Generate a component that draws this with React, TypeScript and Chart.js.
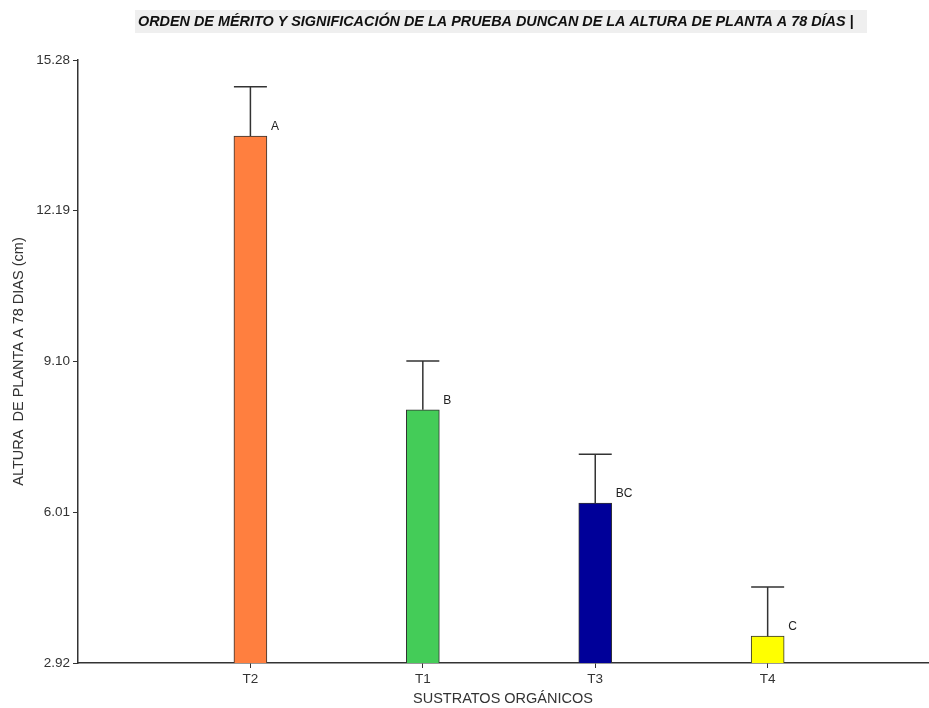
import React, { useEffect, useRef } from "react";
import { Chart, registerables } from "chart.js";

Chart.register(...registerables);

const categories = ["T2", "T1", "T3", "T4"];
const positions = [1, 2, 3, 4];
const means = [13.72, 8.11, 6.2, 3.47];
const errors = [1.01, 1.0, 1.0, 1.01];
const groups = ["A", "B", "BC", "C"];
const barColors = ["#FF7F3F", "#44CC58", "#000099", "#FFFF00"];
const yTicks = [2.92, 6.01, 9.1, 12.19, 15.28];
const titleText = "ORDEN DE MÉRITO Y SIGNIFICACIÓN DE LA PRUEBA DUNCAN DE LA ALTURA DE PLANTA A 78 DÍAS |";
const yTitle = "ALTURA  DE PLANTA A 78 DIAS (cm)";
const xTitle = "SUSTRATOS ORGÁNICOS";

const FONT = "'Liberation Sans', Arial, sans-serif";

const overlay = {
  id: "overlay",
  beforeDraw(chart: any) {
    const ctx = chart.ctx;
    ctx.save();
    ctx.fillStyle = "#ffffff";
    ctx.fillRect(0, 0, chart.width, chart.height);
    ctx.fillStyle = "#efefef";
    ctx.fillRect(135, 10, 732, 23);
    ctx.font = `italic bold 14.4px ${FONT}`;
    ctx.fillStyle = "#111";
    ctx.textBaseline = "middle";
    ctx.textAlign = "left";
    ctx.fillText(titleText, 138, 22);
    ctx.restore();
  },
  afterDatasetsDraw(chart: any) {
    const ctx = chart.ctx;
    const x = chart.scales.x;
    const y = chart.scales.y;
    const meta = chart.getDatasetMeta(0);
    ctx.save();
    for (let i = 0; i < means.length; i++) {
      const m = means[i];
      const e = errors[i];
      const bar: any = meta.data[i];
      const cx = x.getPixelForValue(positions[i]);
      const half = bar.width / 2;
      const yTop = y.getPixelForValue(m);
      const yErr = y.getPixelForValue(m + e);
      ctx.strokeStyle = "#333";
      ctx.lineWidth = 1.5;
      ctx.beginPath();
      ctx.moveTo(cx, yTop);
      ctx.lineTo(cx, yErr);
      ctx.moveTo(cx - half, yErr);
      ctx.lineTo(cx + half, yErr);
      ctx.stroke();
      ctx.fillStyle = "#222";
      ctx.font = `12px ${FONT}`;
      ctx.textAlign = "left";
      ctx.textBaseline = "middle";
      ctx.fillText(groups[i], cx + half + 4, yTop - 9);
    }
    ctx.restore();
  },
};

export default function App() {
  const ref = useRef<HTMLCanvasElement | null>(null);
  useEffect(() => {
    document.body.style.margin = "0";
    const chart = new Chart(ref.current as HTMLCanvasElement, {
      type: "bar",
      data: {
        datasets: [
          {
            data: positions.map((p, i) => ({ x: p, y: means[i] })) as any,
            backgroundColor: barColors,
            borderColor: "#333",
            borderWidth: 1,
            barThickness: 33,
          },
        ],
      },
      options: {
        responsive: false,
        animation: false,
        layout: { padding: { top: 60, right: 1, left: 0, bottom: 0 } },
        plugins: { legend: { display: false }, tooltip: { enabled: false }, title: { display: false } },
        scales: {
          x: {
            type: "linear",
            min: 0,
            max: 4.93,
            offset: false,
            afterBuildTicks: (s: any) => { s.ticks = positions.map((v) => ({ value: v })); },
            grid: {
              display: true,
              drawOnChartArea: false,
              drawTicks: true,
              tickLength: 5,
              offset: false,
              color: "#333",
            },
            border: { display: true, color: "#333", width: 1.5 },
            ticks: {
              color: "#333",
              font: { family: FONT, size: 13.5 },
              padding: 3,
              maxRotation: 0,
              autoSkip: false,
              callback: (v: any) => categories[positions.indexOf(Number(v))] ?? "",
            },
            title: { display: true, text: xTitle, color: "#333", font: { family: FONT, size: 14.5 }, padding: { top: 2, bottom: 0 } },
            afterFit: (s: any) => { s.height = 45; },
          },
          y: {
            min: 2.92,
            max: 15.28,
            afterBuildTicks: (s: any) => { s.ticks = yTicks.map((v) => ({ value: v })); },
            grid: { display: true, drawOnChartArea: false, drawTicks: true, tickLength: 5, color: "#333" },
            border: { display: true, color: "#333", width: 1.5 },
            ticks: {
              color: "#333",
              font: { family: FONT, size: 13.5 },
              padding: 3,
              callback: (v: any) => Number(v).toFixed(2),
            },
            title: { display: true, text: yTitle, color: "#333", font: { family: FONT, size: 14.5 }, padding: { top: 10, bottom: 0 } },
            afterFit: (s: any) => { s.width = 78; },
          },
        },
      },
      plugins: [overlay],
    });
    return () => chart.destroy();
  }, []);
  return (
    <div style={{ position: "absolute", left: 0, top: 0, width: 929, height: 708 }}>
      <canvas ref={ref} width={929} height={708} />
    </div>
  );
}
